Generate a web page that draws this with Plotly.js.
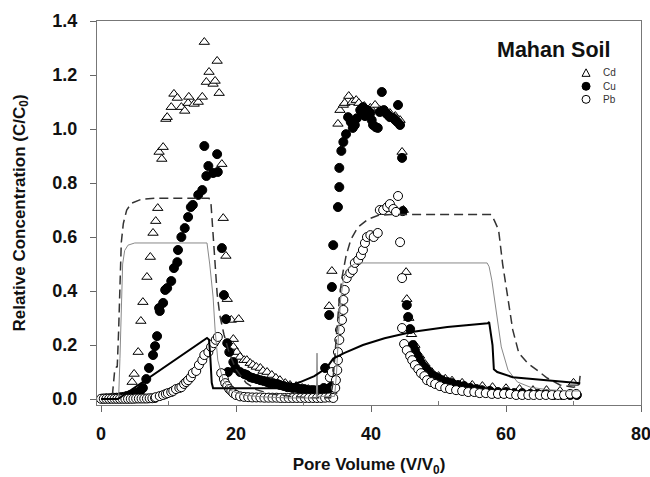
<!DOCTYPE html>
<html><head><meta charset="utf-8">
<script src="https://cdn.plot.ly/plotly-3.0.1.min.js"></script>
<style>html,body{margin:0;padding:0;background:#fff}#chart{width:650px;height:477px}</style>
</head><body><div id="chart"></div>
<script>
const cdX = [0.4,1.2,2.0,2.8,3.6,4.6,4.9,5.5,5.9,6.2,6.8,7.3,7.7,8.1,8.4,8.6,9.0,9.2,9.6,9.8,10.4,10.8,11.3,11.9,12.4,12.9,13.0,13.8,14.4,15.0,15.3,15.6,16.0,16.6,16.9,17.2,17.5,17.9,18.1,18.5,18.7,19.3,20.4,19.6,
  19.6,20.1,20.6,21.2,21.6,22.1,22.5,23.0,23.6,24.0,24.6,25.3,25.9,26.5,27.3,28.0,28.9,29.8,30.7,31.6,32.4,33.3,34.2,
  33.8,34.2,35.1,35.4,35.9,36.1,36.7,37.2,37.8,38.2,39.0,39.9,40.6,41.3,42.1,42.8,43.6,44.3,44.6,44.8,45.2,45.3,45.6,46.0,46.5,47.2,48.0,49.0,50.0,51.0,52.0,53.5,55.0,56.5,58.0,60.0,62.0,64.0,66.0,68.0,70.0];
const cdY = [0.002,0.002,0.003,0.004,0.010,0.063,0.093,0.174,0.289,0.359,0.452,0.526,0.615,0.659,0.707,0.915,0.889,0.933,1.037,1.044,1.081,1.130,1.115,1.081,1.067,1.096,1.119,1.093,1.100,1.119,1.322,1.174,1.211,1.167,1.178,1.252,1.133,0.870,0.670,0.530,0.370,0.293,0.296,0.222,
  0.193,0.174,0.156,0.144,0.144,0.133,0.126,0.119,0.115,0.104,0.100,0.089,0.078,0.070,0.059,0.052,0.048,0.041,0.037,0.033,0.033,0.030,0.030,
  0.344,0.474,1.019,1.070,1.089,1.096,1.122,1.100,1.107,1.096,1.085,1.078,1.089,1.070,1.063,1.059,1.048,1.033,0.915,0.700,0.470,0.370,0.300,0.240,0.200,0.160,0.130,0.100,0.085,0.075,0.068,0.060,0.052,0.048,0.044,0.040,0.037,0.033,0.033,0.030,0.060];

const cuX = [0.3,0.8,1.3,1.8,2.3,2.8,3.3,3.8,4.3,4.8,5.3,5.8,6.2,6.7,7.1,7.7,8.0,8.3,8.6,8.7,9.2,9.5,9.8,10.4,10.8,11.3,11.4,11.9,12.4,12.9,13.3,13.6,14.4,15.0,15.3,15.6,15.9,16.6,17.3,17.2,17.9,18.2,18.5,18.7,18.8,19.0,19.6,
  19.9,20.6,21.2,21.6,22.1,22.5,23.1,23.6,24.1,24.6,25.0,25.5,26.1,26.5,27.1,27.6,28.0,28.4,29.0,29.5,30.1,30.5,31.0,31.4,32.0,32.4,33.0,33.2,33.5,33.9,34.2,
  33.8,34.2,34.4,35.1,35.3,35.3,35.6,35.9,36.3,36.6,37.0,37.3,37.6,37.9,38.4,38.7,38.8,39.1,39.4,39.7,39.9,40.1,40.3,40.7,41.0,41.3,41.6,41.9,42.2,42.5,42.8,43.3,43.6,43.9,44.0,44.3,44.6,44.7,45.3,45.5,45.8,46.2,
  46.5,46.8,47.1,47.4,47.9,48.3,48.7,49.3,49.9,50.5,51.3,52.0,52.9,53.8,54.7,55.6,56.4,57.6,58.8,60.0,61.2,62.4,63.6,64.7,65.9,67.1,68.3,69.5,70.5];
const cuY = [0.002,0.003,0.003,0.005,0.005,0.007,0.008,0.011,0.015,0.019,0.024,0.030,0.041,0.074,0.115,0.163,0.196,0.233,0.337,0.326,0.356,0.404,0.411,0.437,0.485,0.507,0.552,0.600,0.633,0.674,0.711,0.719,0.756,0.774,0.937,0.826,0.863,0.837,0.841,0.907,0.559,0.385,0.296,0.207,0.100,0.174,0.137,
  0.115,0.100,0.093,0.089,0.081,0.078,0.074,0.070,0.067,0.063,0.059,0.059,0.056,0.052,0.048,0.044,0.044,0.041,0.041,0.037,0.037,0.033,0.033,0.033,0.033,0.033,0.041,0.115,0.037,0.041,0.048,
  0.311,0.415,0.570,0.711,0.785,0.856,0.919,0.952,0.981,1.044,1.026,1.004,1.015,1.040,1.070,1.059,1.081,1.048,1.070,1.063,1.059,1.033,1.015,1.007,1.004,1.063,1.137,1.070,1.059,1.052,1.044,1.041,1.033,1.026,1.089,1.015,0.893,0.696,0.348,0.304,0.259,0.200,
  0.181,0.163,0.148,0.133,0.119,0.107,0.096,0.085,0.078,0.070,0.063,0.059,0.052,0.048,0.041,0.037,0.033,0.030,0.026,0.026,0.022,0.022,0.019,0.019,0.019,0.015,0.015,0.015,0.015];

const pbX = [0,0.4,0.8,1.2,1.6,2.0,2.4,2.8,3.2,3.6,4.0,4.4,4.8,5.2,5.6,6.0,6.4,6.8,7.2,7.6,8.0,
  8.1,8.7,9.2,9.6,9.9,10.4,10.7,11.1,11.6,11.9,12.3,12.6,12.9,13.3,13.6,14.1,14.5,15.0,15.3,15.9,16.3,16.7,17.0,17.3,
  17.8,18.2,18.4,18.7,19.0,19.3,19.6,20.0,
  20.6,21.2,21.8,22.4,23.0,23.6,24.2,24.8,25.4,26.0,26.6,27.2,27.8,28.4,29.0,29.6,30.2,30.8,31.4,32.0,32.6,33.2,33.8,33.9,34.2,
  34.4,34.7,34.8,35.0,35.1,35.1,35.3,35.4,35.7,35.9,35.9,36.1,36.4,36.9,37.3,37.6,38.1,38.5,38.8,39.1,39.4,39.9,40.4,41.0,41.3,41.8,42.4,42.8,43.3,43.7,44.0,44.3,44.6,44.6,44.9,45.3,45.8,46.1,46.5,47.0,47.4,47.9,48.3,48.9,49.5,50.2,51.0,51.7,52.6,53.5,54.4,55.3,56.1,57.0,57.9,58.8,59.7,60.6,61.5,62.4,63.3,64.1,65.0,65.9,66.8,67.7,68.6,69.5,70.4];
const pbY = [0.001,0.001,0.001,0.001,0.001,0.001,0.001,0.001,0.001,0.001,0.001,0.001,0.001,0.002,0.002,0.002,0.002,0.002,0.003,0.003,0.004,
  0.007,0.011,0.015,0.019,0.022,0.026,0.030,0.037,0.041,0.044,0.056,0.063,0.070,0.081,0.096,0.104,0.126,0.144,0.163,0.174,0.193,0.207,0.219,0.230,
  0.096,0.074,0.059,0.048,0.037,0.030,0.022,0.015,
  0.010,0.008,0.007,0.006,0.006,0.006,0.005,0.005,0.005,0.005,0.004,0.004,0.004,0.004,0.004,0.004,0.004,0.004,0.004,0.004,0.004,0.005,0.006,0.080,0.100,
  0.004,0.041,0.070,0.107,0.144,0.174,0.219,0.256,0.293,0.330,0.367,0.404,0.448,0.467,0.478,0.504,0.515,0.533,0.552,0.578,0.600,0.607,0.600,0.615,0.700,0.700,0.711,0.722,0.704,0.693,0.752,0.581,0.448,0.263,0.204,0.181,0.159,0.144,0.126,0.111,0.096,0.085,0.070,0.063,0.056,0.048,0.041,0.037,0.033,0.030,0.026,0.026,0.022,0.022,0.019,0.019,0.019,0.019,0.015,0.015,0.015,0.015,0.015,0.015,0.015,0.015,0.015,0.019,0.019];

// ---- model curves ----
const dashX = [0,1.5,1.7,2.0,2.3,2.4,2.6,2.8,3.0,3.3,3.8,4.5,6.0,8.0,16.0,16.3,16.6,16.9,17.2,17.6,18.2,19.0,20.0,21.5,23.0,25.0,28.0,31.0,34.0,34.3,34.6,34.9,35.3,35.7,36.3,37.0,38.0,39.5,41.0,43.0,57.8,58.3,58.9,59.5,60.2,61.0,61.9,63.2,64.6,66.1,68.0,70.0,70.8,71.0];
const dashY = [0,0,0.02,0.10,0.12,0.12,0.25,0.45,0.58,0.65,0.70,0.725,0.740,0.744,0.744,0.72,0.60,0.48,0.39,0.31,0.24,0.17,0.11,0.06,0.035,0.02,0.01,0.005,0.005,0.05,0.15,0.27,0.37,0.45,0.53,0.59,0.635,0.665,0.68,0.683,0.683,0.66,0.626,0.50,0.378,0.256,0.17,0.133,0.107,0.078,0.052,0.044,0.048,0.09];

const thinX = [0,2.6,2.8,3.0,3.2,3.5,4.0,5.0,15.7,16.1,16.6,16.9,17.3,18.1,19.1,21.0,24.0,28.0,31.9,32.0,32.1,34.6,34.9,35.2,35.5,35.9,36.5,37.5,38.5,57.2,57.5,57.9,58.6,59.3,60.3,61.7,63.6,66.0,69.0,71.0];
const thinY = [0,0,0.15,0.35,0.50,0.55,0.57,0.578,0.578,0.50,0.378,0.256,0.144,0.07,0.033,0.015,0.008,0.004,0.004,0.17,0.01,0.01,0.10,0.25,0.37,0.44,0.48,0.50,0.504,0.504,0.49,0.44,0.32,0.193,0.107,0.063,0.044,0.035,0.03,0.03];

const thickX = [0,2.5,15.7,16.0,16.2,16.4,16.6,27.0,29.5,31.6,33.4,34.4,36.0,38.8,42.0,46.0,51.3,55.0,57.3,57.5,58.0,58.2,58.7,61.0,66.0,71.0];
const thickY = [0,0,0.226,0.22,0.15,0.06,0.04,0.04,0.063,0.085,0.115,0.15,0.17,0.20,0.225,0.248,0.267,0.276,0.281,0.285,0.20,0.11,0.10,0.081,0.07,0.059];

const xTicks = [0,20,40,60,80];
const yTicks = [0,0.2,0.4,0.6,0.8,1.0,1.2,1.4];
const seriesNames = ['Cd','Cu','Pb'];

const FONT = 'Liberation Sans, Arial, Helvetica, sans-serif';
const mk = (sym, fill) => ({symbol: sym, size: 9, color: fill, line: {color: '#000', width: 1}});

const traces = [
  {x: cdX, y: cdY, name: seriesNames[0], mode: 'markers', type: 'scatter', marker: mk('triangle-up', '#fff')},
  {x: cuX, y: cuY, name: seriesNames[1], mode: 'markers', type: 'scatter', marker: mk('circle', '#000')},
  {x: pbX, y: pbY, name: seriesNames[2], mode: 'markers', type: 'scatter', marker: mk('circle', '#fff')},
  {x: dashX, y: dashY, mode: 'lines', type: 'scatter', line: {color: '#333', width: 1.5, dash: '9px,5px'}},
  {x: thinX, y: thinY, mode: 'lines', type: 'scatter', line: {color: '#888', width: 1}},
  {x: thickX, y: thickY, mode: 'lines', type: 'scatter', line: {color: '#000', width: 2}}
];

// legend geometry (paper coords)
const legSymX = 0.899, legTxtX = 0.926;
const legRows = [0.865, 0.830, 0.796];

const shapes = [
  {type: 'path', xref: 'paper', yref: 'paper', xsizemode: 'pixel', ysizemode: 'pixel', xanchor: legSymX, yanchor: legRows[0],
   path: 'M -4,-3.5 L 4,-3.5 L 0,4 Z', line: {color: '#000', width: 1}, fillcolor: '#fff'},
  {type: 'circle', xref: 'paper', yref: 'paper', xsizemode: 'pixel', ysizemode: 'pixel', xanchor: legSymX, yanchor: legRows[1],
   x0: -4, x1: 4, y0: -4, y1: 4, line: {color: '#000', width: 1}, fillcolor: '#000'},
  {type: 'circle', xref: 'paper', yref: 'paper', xsizemode: 'pixel', ysizemode: 'pixel', xanchor: legSymX, yanchor: legRows[2],
   x0: -4, x1: 4, y0: -4, y1: 4, line: {color: '#000', width: 1}, fillcolor: '#fff'}
];

const annotations = [
  {text: 'Mahan Soil', xref: 'paper', yref: 'paper', x: 0.840, y: 0.924, showarrow: false,
   font: {family: FONT, size: 21.5, color: '#111', weight: 'bold'}, xanchor: 'center', yanchor: 'middle'}
].concat(seriesNames.map((n, i) => ({text: n, xref: 'paper', yref: 'paper', x: legTxtX, y: legRows[i], showarrow: false,
   font: {family: FONT, size: 10, color: '#333'}, xanchor: 'left', yanchor: 'middle'})));

const layout = {
  width: 650, height: 477,
  margin: {l: 97, r: 9, t: 21, b: 72},
  paper_bgcolor: '#fff', plot_bgcolor: '#fff',
  showlegend: false,
  font: {family: FONT, color: '#000'},
  xaxis: {
    range: [-0.6, 80], tickvals: xTicks, ticks: 'outside', ticklen: 6, tickcolor: '#666',
    showline: true, linecolor: '#777', linewidth: 1, mirror: true, showgrid: false, zeroline: false,
    tickfont: {family: FONT, size: 18, weight: 'bold', color: '#111'}, ticklabelstandoff: 6, ticklabeloverflow: 'allow',
    minor: {tickvals: [10,30,50,70], ticks: 'inside', ticklen: 4, tickcolor: '#777'},
    title: {text: 'Pore Volume (V/V<sub>0</sub>)', font: {family: FONT, size: 17, weight: 'bold', color: '#111'}, standoff: 16}
  },
  yaxis: {
    range: [-0.022, 1.4], tickvals: yTicks, tickformat: '.1f', ticks: 'outside', ticklen: 6, tickcolor: '#666',
    showline: true, linecolor: '#777', linewidth: 1, mirror: true, showgrid: false, zeroline: false,
    tickfont: {family: FONT, size: 18, weight: 'bold', color: '#111'}, ticklabelstandoff: 9,
    title: {text: 'Relative Concentration (C/C<sub>0</sub>)', font: {family: FONT, size: 17, weight: 'bold', color: '#111'}, standoff: 22}
  },
  shapes: shapes,
  annotations: annotations
};

Plotly.newPlot('chart', traces, layout, {staticPlot: true, displayModeBar: false});
</script>
</body></html>
